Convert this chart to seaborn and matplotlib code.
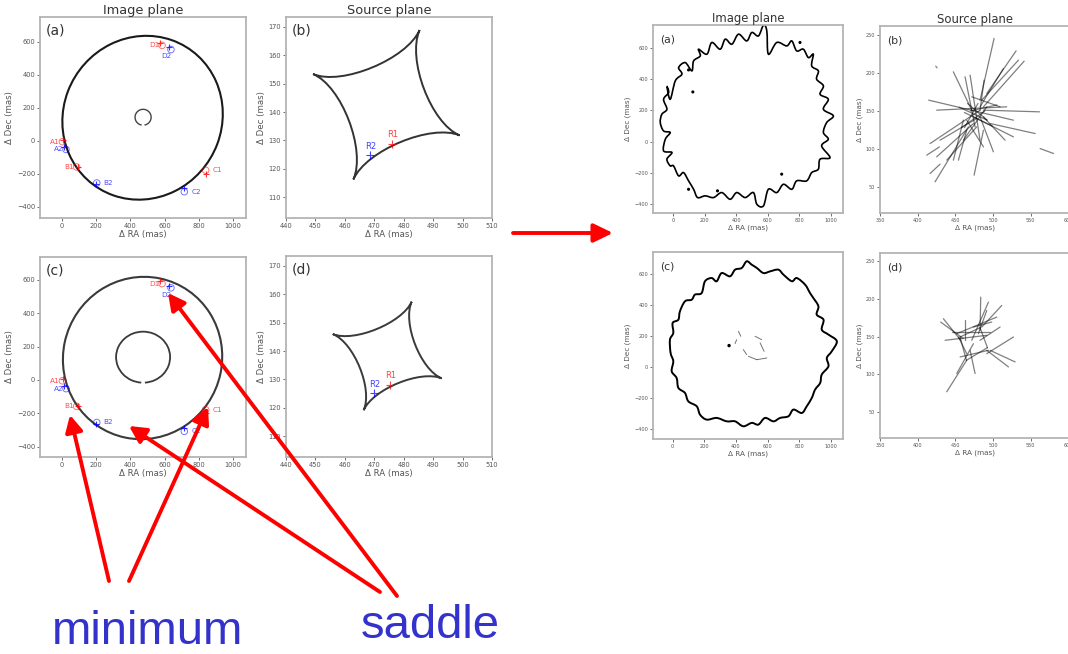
import numpy as np
import matplotlib
matplotlib.use("Agg")
import matplotlib.pyplot as plt
from matplotlib.patches import Ellipse, Arc, PathPatch
from matplotlib.path import Path
import seaborn as sns

# ---- left figure: image plane points (mas) ----
names1 = ["A1", "B1", "C1", "D1"]
names2 = ["A2", "B2", "C2", "D2"]
img1_x = [2, 85, 840, 585]
img1_y = [-5, -158, -178, 578]
mod1_x = [8, 95, 840, 572]
mod1_y = [8, -158, -200, 592]
img2_x = [23, 203, 715, 637]
img2_y = [-52, -255, -308, 553]
mod2_x = [14, 196, 715, 626]
mod2_y = [-38, -262, -288, 566]

# critical curves of the smooth models (centre x, centre y, width, height)
crit_a_outer = (471, 140, 930, 1000)
crit_a_inner = (474, 143, 94, 96)
crit_c_outer = (471, 132, 930, 976)
crit_c_inner = (474, 137, 316, 306)

# caustic cusps (left, top, right, bottom)
caus_b_x = [449.2, 485.4, 499.0, 462.9]
caus_b_y = [153.4, 168.9, 131.8, 116.3]
caus_d_x = [455.9, 482.7, 492.9, 466.4]
caus_d_y = [146.0, 157.4, 130.4, 119.2]
src_names = ["R1", "R2"]
src_b_x = [476.1, 468.4]
src_b_y = [128.9, 125.0]
src_d_x = [475.5, 470.0]
src_d_y = [128.2, 125.1]

# ---- right figure: perturbed critical curves ----
ring_a_x = [-38, -17, 15, 57, 36, 78, 120, 131, 173, 162, 215, 246, 299, 331, 373,
            415, 467, 499, 541, 573, 594, 604, 657, 720, 752, 783, 825, 857, 888, 878,
            920, 909, 952, 931, 983, 952, 1015, 973, 952, 983, 941, 994, 931, 920, 878,
            846, 783, 752, 699, 657, 604, 573, 531, 509, 457, 404, 362, 309, 257, 204,
            156, 131, 99, 67, 36, 4, -17, -38, -6, -59, -48, -17, -59, -80, -70,
            -38, -59, -27]
ring_a_y = [353, 271, 389, 432, 474, 506, 453, 517, 549, 592, 560, 635, 592, 656, 624,
            688, 645, 699, 677, 746, 709, 560, 635, 613, 645, 581, 592, 538, 560, 485,
            453, 400, 357, 303, 271, 207, 165, 122, 58, 15, -28, -103, -113, -177, -199,
            -252, -252, -306, -274, -327, -306, -412, -402, -327, -359, -327, -370, -327, -359, -348,
            -359, -306, -252, -199, -220, -156, -156, -113, -70, -60, 15, 58, 68, 122, 175,
            207, 271, 314]
dots_a_x = [126, 99, 282, 99, 688, 804]
dots_a_y = [318, -306, -316, 459, -209, 635]

ring_c_x = [-13, -17, 4, 0, 36, 46, 78, 120, 141, 183, 204, 246, 278, 309, 362,
            394, 436, 467, 499, 531, 573, 615, 667, 699, 752, 783, 836, 867, 888, 920,
            909, 952, 941, 983, 1036, 1004, 973, 983, 941, 931, 899, 878, 846, 815, 762,
            731, 678, 636, 583, 541, 499, 446, 394, 341, 278, 215, 173, 152, 99, 78,
            36, 25, -6, 4]
ring_c_y = [90, 176, 219, 284, 305, 359, 424, 434, 467, 477, 553, 574, 553, 606, 585,
            628, 639, 682, 660, 639, 606, 617, 628, 596, 553, 574, 531, 477, 445, 391,
            338, 305, 241, 209, 166, 101, 58, 4, -49, -103, -146, -200, -254, -297, -275,
            -318, -329, -351, -329, -372, -361, -383, -351, -351, -329, -340, -308, -254, -222, -168,
            -135, -71, -28, 37]
frag_c_x0 = [415, 404, 520, 552, 478, 531, 446]
frag_c_y0 = [230, 176, 198, 155, 69, 47, 112]
frag_c_x1 = [430, 394, 562, 577, 531, 594, 467]
frag_c_y1 = [198, 151, 176, 101, 47, 58, 80]
dot_c_x = [356]
dot_c_y = [138]

# ---- right figure: source plane caustic segments ----
seg_b_x0 = [501.3, 530.5, 533.6, 541.2, 513.7, 414.6, 425.2, 447.3, 462.8, 469.5, 488.1,
            487.2, 496.0, 473.9, 482.7, 487.2, 465.0, 491.6, 482.7, 473.9, 478.3, 467.3,
            465.0, 487.2, 460.6, 416.4, 412.0, 562.4, 423.9, 471.7, 429.6,
            455.0, 462.0, 480.0, 470.0, 492.0, 458.0]
seg_b_y0 = [245.6, 229.3, 217.0, 215.7, 206.0, 164.3, 151.1, 201.6, 195.1, 197.3, 190.7,
            151.1, 133.5, 142.3, 142.3, 142.3, 137.9, 155.5, 151.1, 133.5, 129.1, 129.1,
            124.7, 124.7, 137.9, 67.6, 91.8, 100.5, 209.1, 168.7, 111.5,
            155.0, 148.0, 160.0, 150.0, 138.0, 128.0]
seg_b_x1 = [482.7, 491.6, 485.0, 487.2, 482.7, 527.0, 518.1, 471.7, 476.1, 482.7, 482.7,
            561.5, 555.8, 527.0, 500.4, 515.9, 487.2, 460.6, 416.4, 425.2, 438.5, 423.0,
            454.0, 474.8, 447.3, 429.6, 428.8, 580.1, 425.7, 509.3, 478.3,
            492.0, 499.0, 462.0, 505.0, 466.0, 489.0]
seg_b_y1 = [164.3, 173.1, 164.3, 155.5, 155.5, 137.9, 155.5, 151.1, 129.1, 111.5, 151.1,
            148.9, 120.3, 115.9, 96.2, 111.5, 102.7, 111.5, 107.1, 89.6, 85.2, 56.6,
            85.2, 65.4, 85.2, 79.9, 102.7, 94.0, 206.9, 155.5, 140.1,
            138.0, 130.0, 128.0, 158.0, 160.0, 150.0]

seg_d_x0 = [430.5, 434.1, 436.3, 483.6, 493.8, 511.5, 504.9, 462.8, 527.0, 529.2, 520.4,
            438.5, 451.8, 476.1, 456.2, 445.1, 473.9, 482.7, 491.6, 454.0,
            456.2, 482.7, 492.5, 464.6]
seg_d_y0 = [169.4, 173.8, 145.2, 202.4, 195.8, 191.4, 176.0, 171.6, 149.6, 116.5, 109.9,
            76.9, 101.1, 101.1, 123.1, 156.2, 162.8, 145.2, 184.8, 149.6,
            149.6, 161.9, 135.4, 118.7]
seg_d_x1 = [460.6, 457.1, 491.6, 482.7, 471.7, 485.0, 451.8, 462.8, 491.6, 496.0, 491.6,
            465.0, 473.9, 469.5, 493.8, 496.0, 498.2, 509.3, 480.5, 465.0,
            482.7, 492.5, 464.6, 456.2]
seg_d_y1 = [147.4, 145.2, 151.8, 158.4, 145.2, 162.8, 154.0, 145.2, 127.5, 131.9, 131.9,
            118.7, 140.7, 131.9, 131.9, 156.2, 169.4, 162.8, 154.0, 127.5,
            161.9, 135.4, 118.7, 149.6]

img_xticks = [0, 200, 400, 600, 800, 1000]
img_yticks = [-400, -200, 0, 200, 400, 600]
srcL_xticks = [440, 450, 460, 470, 480, 490, 500, 510]
srcL_yticks = [110, 120, 130, 140, 150, 160, 170]
srcR_xticks = [350, 400, 450, 500, 550, 600]
srcR_yticks = [50, 100, 150, 200, 250]

sns.set_style("white")
plt.rcParams["font.family"] = ["DejaVu Sans"]

W, H = 1068, 654
fig = plt.figure(figsize=(W / 100, H / 100), dpi=100)


def box(x0, y0, x1, y1):
    return [x0 / W, 1 - y1 / H, (x1 - x0) / W, (y1 - y0) / H]


def style(ax, xt, yt, xlim, ylim, fs_tick, fs_lab, tag, fs_tag, tag_xy, title=None, fs_title=9):
    ax.set_xlim(*xlim)
    ax.set_ylim(*ylim)
    ax.set_xticks(xt)
    ax.set_yticks(yt)
    ax.tick_params(labelsize=fs_tick, colors="#555555", length=2, width=0.6,
                   bottom=True, left=True, pad=1.5)
    for s in ax.spines.values():
        s.set_color("#b4b4b4")
        s.set_linewidth(1.3)
    ax.set_xlabel("Δ RA (mas)", fontsize=fs_lab, color="#555555", labelpad=1)
    ax.set_ylabel("Δ Dec (mas)", fontsize=fs_lab, color="#555555", labelpad=2)
    ax.text(tag_xy[0], tag_xy[1], tag, transform=ax.transAxes, fontsize=fs_tag,
            va="top", ha="left", color="#333333")
    if title:
        ax.set_title(title, fontsize=fs_title, color="#333333", pad=2)


def image_points(ax):
    sns.scatterplot(x=img1_x, y=img1_y, ax=ax, marker="o", s=22, facecolor="none",
                    edgecolor="red", alpha=0.55, linewidth=0.7)
    sns.scatterplot(x=img2_x, y=img2_y, ax=ax, marker="o", s=22, facecolor="none",
                    edgecolor="blue", alpha=0.55, linewidth=0.7)
    ax.plot(mod1_x, mod1_y, "+", color="red", ms=4.5, mew=0.8, alpha=0.8)
    ax.plot(mod2_x, mod2_y, "+", color="blue", ms=4.5, mew=0.8, alpha=0.8)
    off1 = [(-2, 0, "right"), (-2, 0, "right"), (5, 0, "left"), (-2, 0, "right")]
    off2 = [(-2, 0, "right"), (5, 0, "left"), (5, 0, "left"), (-3, -5, "center")]
    for n, x, y, (dx, dy, ha) in zip(names1, img1_x, img1_y, off1):
        ax.annotate(n, (x, y), xytext=(dx, dy), textcoords="offset points", ha=ha,
                    va="center", fontsize=5.2, color="red", alpha=0.7)
    for n, x, y, (dx, dy, ha) in zip(names2, img2_x, img2_y, off2):
        ax.annotate(n, (x, y), xytext=(dx, dy), textcoords="offset points", ha=ha,
                    va="center", fontsize=5.2, color="blue", alpha=0.7)


def caustic(ax, cx, cy, color):
    ctr = np.array([np.mean(cx), np.mean(cy)])
    pts = [np.array(p) for p in zip(cx, cy)]
    verts = [pts[0]]
    for i in range(4):
        p0, p3 = pts[i], pts[(i + 1) % 4]
        verts += [p0 + 0.39 * (ctr - p0), p3 + 0.39 * (ctr - p3), p3]
    codes = [Path.MOVETO] + [Path.CURVE4] * 12
    ax.add_patch(PathPatch(Path(verts, codes), facecolor="none", edgecolor=color, lw=1.4))


def wiggly_ring(ax, xs, ys, lw):
    # closed curve passing through every read-off point (cubic pieces)
    p = np.column_stack([xs, ys]).astype(float)
    prev = np.roll(p, 1, axis=0)
    nxt = np.roll(p, -1, axis=0)
    nxt2 = np.roll(p, -2, axis=0)
    verts = [p[0]]
    codes = [Path.MOVETO]
    for i in range(len(p)):
        c1 = p[i] + (nxt[i] - prev[i]) / 6
        c2 = nxt[i] - (nxt2[i] - p[i]) / 6
        verts += [c1, c2, nxt[i]]
        codes += [Path.CURVE4] * 3
    ax.add_patch(PathPatch(Path(verts, codes), facecolor="none", edgecolor="black",
                           lw=lw, joinstyle="round"))


def sources(ax, sx, sy):
    cols = ["red", "blue"]
    for n, x, y, c in zip(src_names, sx, sy, cols):
        ax.plot([x], [y], "+", color=c, ms=6, mew=0.8, alpha=0.75)
        ax.annotate(n, (x, y), xytext=(0.5, 3), textcoords="offset points", ha="center",
                    va="bottom", fontsize=6, color=c, alpha=0.75)


# ---------------- left block ----------------
ax_a = fig.add_axes(box(40, 17, 246, 218))
style(ax_a, img_xticks, img_yticks, (-129, 1076), (-467, 750), 4.8, 6.2, "(a)", 10,
      (0.03, 0.97), "Image plane", 9.3)
ex, ey, ew, eh = crit_a_outer
ax_a.add_patch(Ellipse((ex, ey), ew, eh, angle=-20, fill=False, color="#1a1a1a", lw=1.5))
ix, iy, iw, ih = crit_a_inner
ax_a.add_patch(Arc((ix, iy), iw, ih, theta1=-80, theta2=260, color="#444444", lw=1.0))
image_points(ax_a)

ax_b = fig.add_axes(box(286, 17, 492, 218))
style(ax_b, srcL_xticks, srcL_yticks, (440, 510), (102.7, 173.5), 4.8, 6.2, "(b)", 10,
      (0.03, 0.97), "Source plane", 9.3)
caustic(ax_b, caus_b_x, caus_b_y, "#333333")
sources(ax_b, src_b_x, src_b_y)

ax_c = fig.add_axes(box(40, 257, 246, 457))
style(ax_c, img_xticks, img_yticks, (-129, 1076), (-462, 738), 4.8, 6.2, "(c)", 10,
      (0.03, 0.97))
ex, ey, ew, eh = crit_c_outer
ax_c.add_patch(Ellipse((ex, ey), ew, eh, angle=-12, fill=False, color="#3a3a3a", lw=1.5))
ix, iy, iw, ih = crit_c_inner
ax_c.add_patch(Arc((ix, iy), iw, ih, theta1=-86, theta2=266, color="#3a3a3a", lw=1.3))
image_points(ax_c)

ax_d = fig.add_axes(box(286, 256, 492, 457))
style(ax_d, srcL_xticks, srcL_yticks, (440, 510), (102.7, 173.5), 4.8, 6.2, "(d)", 10,
      (0.03, 0.97))
caustic(ax_d, caus_d_x, caus_d_y, "#3a3a3a")
sources(ax_d, src_d_x, src_d_y)

# ---------------- right block ----------------
ra = fig.add_axes(box(653, 25, 843, 213))
style(ra, img_xticks, img_yticks, (-126, 1076), (-458, 747), 3.6, 5.2, "(a)", 7.8,
      (0.04, 0.95), "Image plane", 8.4)
wiggly_ring(ra, ring_a_x, ring_a_y, 1.2)
sns.scatterplot(x=dots_a_x, y=dots_a_y, ax=ra, color="black", s=5, edgecolor="none")

rb = fig.add_axes(box(880, 26, 1070, 213))
style(rb, srcR_xticks, srcR_yticks, (350, 602), (15.6, 262), 3.6, 5.2, "(b)", 7.8,
      (0.04, 0.95), "Source plane", 8.4)
for x0, y0, x1, y1 in zip(seg_b_x0, seg_b_y0, seg_b_x1, seg_b_y1):
    rb.plot([x0, x1], [y0, y1], color="black", alpha=0.5, lw=0.9)

rc = fig.add_axes(box(653, 252, 843, 439))
style(rc, img_xticks, img_yticks, (-124, 1075), (-465, 742), 3.6, 5.2, "(c)", 7.8,
      (0.04, 0.95))
wiggly_ring(rc, ring_c_x, ring_c_y, 1.4)
for x0, y0, x1, y1 in zip(frag_c_x0, frag_c_y0, frag_c_x1, frag_c_y1):
    rc.plot([x0, x1], [y0, y1], color="black", alpha=0.55, lw=0.7)
sns.scatterplot(x=dot_c_x, y=dot_c_y, ax=rc, color="black", s=6, edgecolor="none")

rd = fig.add_axes(box(880, 253, 1070, 438))
style(rd, srcR_xticks, srcR_yticks, (350, 602), (15.6, 261), 3.6, 5.2, "(d)", 7.8,
      (0.04, 0.95))
for x0, y0, x1, y1 in zip(seg_d_x0, seg_d_y0, seg_d_x1, seg_d_y1):
    rd.plot([x0, x1], [y0, y1], color="black", alpha=0.5, lw=0.9)

# ---------------- slide overlay: arrows and words ----------------
ov = fig.add_axes([0, 0, 1, 1], zorder=20)
ov.set_xlim(0, W)
ov.set_ylim(H, 0)
ov.axis("off")
ov.patch.set_alpha(0)

head = "-|>,head_length=0.5,head_width=0.26"
arrows = [((109, 581), (70, 415)), ((129, 581), (208, 407)),
          ((380, 592), (129, 426)), ((397, 596), (168, 293))]
for start, tip in arrows:
    ov.annotate("", xy=tip, xytext=start,
                arrowprops=dict(arrowstyle=head, color="red", lw=2.8,
                                mutation_scale=20, shrinkA=0, shrinkB=0))
ov.annotate("", xy=(613, 233), xytext=(513, 233),
            arrowprops=dict(arrowstyle="-|>,head_length=0.58,head_width=0.28", color="red",
                            lw=2.8, mutation_scale=20, shrinkA=0, shrinkB=0))

ov.text(52, 644, "minimum", fontsize=34, color="#3333cc", family="Liberation Sans",
        va="baseline", ha="left")
ov.text(361, 638, "saddle", fontsize=34, color="#3333cc", family="Liberation Sans",
        va="baseline", ha="left")

fig.savefig("out.png", dpi=100)
